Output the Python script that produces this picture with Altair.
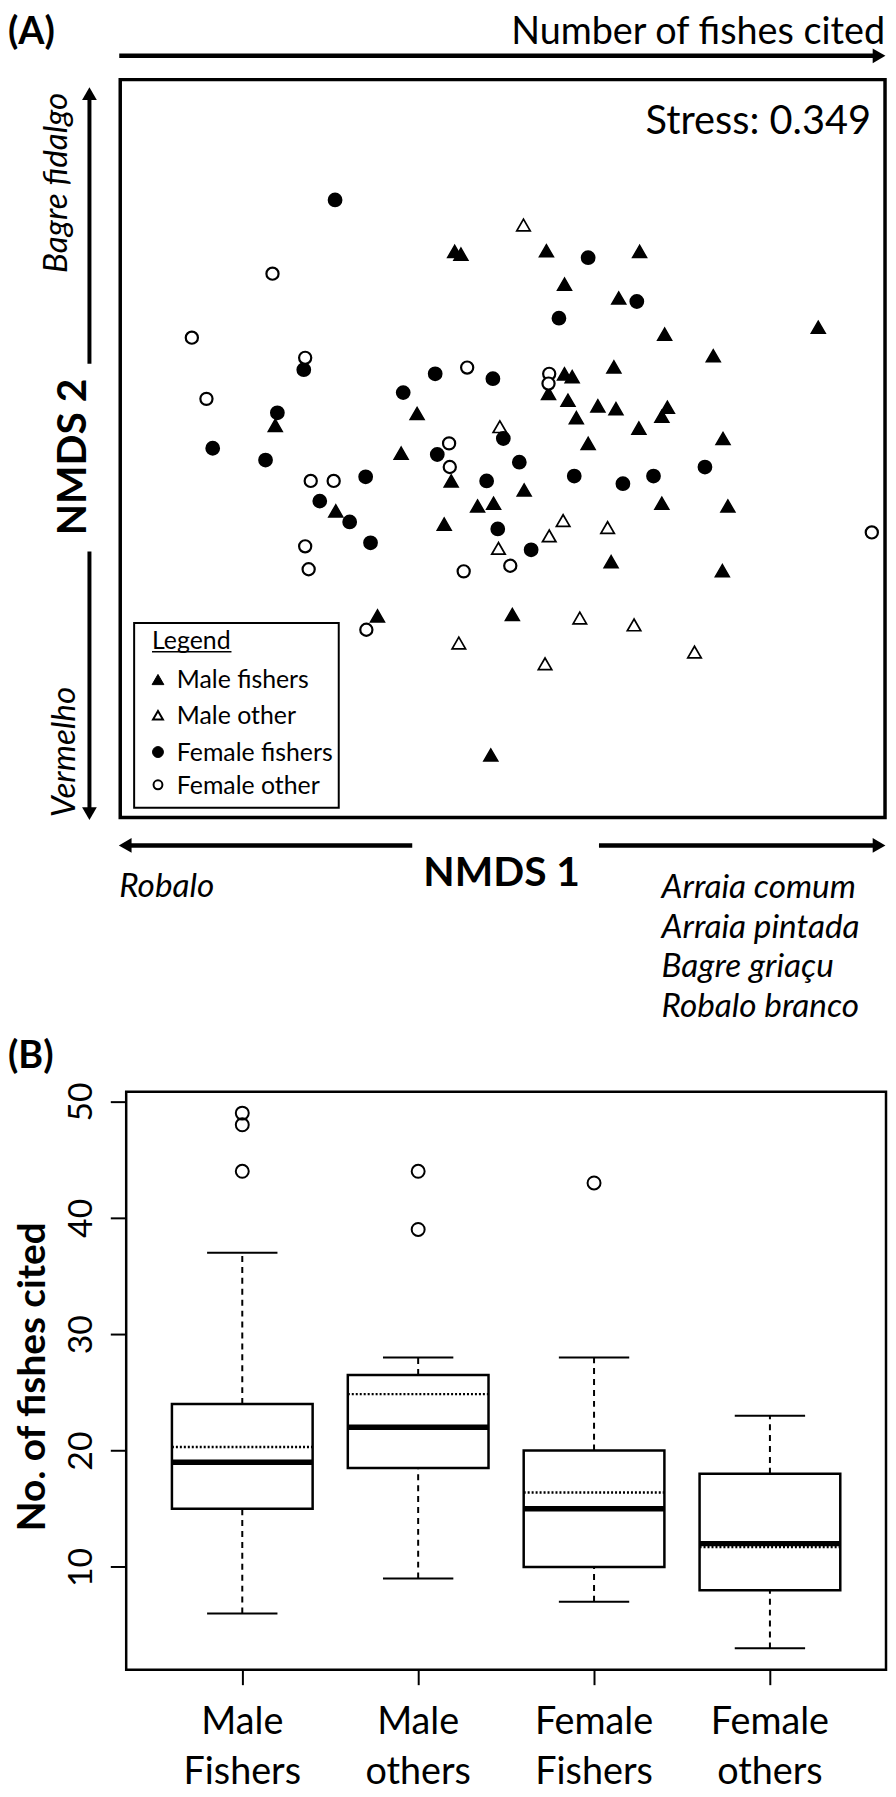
import altair as alt
import pandas as pd

FONT = "Lato"

# ---------------- Panel A data (NMDS scores) ----------------
groups = ["Male fishers", "Male other", "Female fishers", "Female other"]

mf_x = [-0.327, -0.123, -0.146, -0.240, -0.180, -0.069, -0.060, 0.063, 0.197, 0.089,
        0.167, 0.233, 0.454, 0.303, 0.160, 0.066, 0.089, 0.100, 0.094, 0.137,
        0.163, 0.106, 0.237, 0.229, 0.196, 0.317, 0.123, -0.074, 0.031, -0.036,
        -0.013, 0.229, 0.324, -0.084, 0.156, 0.316, 0.014, -0.017]
mf_y = [0.033, 0.050, -0.007, -0.090, -0.241, 0.283, 0.279, 0.284, 0.283, 0.236,
        0.216, 0.164, 0.174, 0.133, 0.117, 0.079, 0.107, 0.103, 0.069, 0.061,
        0.057, 0.044, 0.059, 0.046, 0.029, 0.014, 0.007, -0.047, -0.060, -0.083,
        -0.079, -0.079, -0.083, -0.109, -0.163, -0.176, -0.239, -0.441]

mo_x = [0.030, -0.004, 0.087, 0.067, 0.151, -0.006, 0.111, 0.189, -0.063, 0.276, 0.061]
mo_y = [0.321, 0.031, -0.104, -0.126, -0.114, -0.144, -0.244, -0.254, -0.280, -0.293, -0.310]

ff_x = [-0.241, -0.286, -0.324, -0.417, -0.341, -0.097, -0.143, -0.094, -0.197, -0.263,
        -0.220, -0.190, 0.123, 0.193, 0.081, -0.014, 0.001, 0.024, -0.023, 0.103,
        0.173, 0.217, 0.291, -0.007, 0.041]
ff_y = [0.357, 0.113, 0.051, 0.000, -0.017, 0.107, 0.080, -0.009, -0.041, -0.076,
        -0.106, -0.136, 0.274, 0.211, 0.187, 0.100, 0.014, -0.020, -0.047, -0.040,
        -0.051, -0.040, -0.027, -0.116, -0.146]

fo_x = [-0.331, -0.447, -0.284, -0.426, -0.276, -0.243, -0.284, -0.279, -0.196, -0.051,
        0.067, 0.066, -0.077, -0.076, 0.531, 0.011, -0.056]
fo_y = [0.251, 0.159, 0.130, 0.071, -0.047, -0.047, -0.141, -0.174, -0.261, 0.116,
        0.107, 0.093, 0.007, -0.027, -0.121, -0.169, -0.177]

stress_label = "Stress: 0.349"
right_species = ["Arraia comum", "Arraia pintada", "Bagre griaçu", "Robalo branco"]

# ---------------- Panel B data (boxplots) ----------------
box_labels = ["Male\nFishers", "Male\nothers", "Female\nFishers", "Female\nothers"]
box_pos = [1, 2, 3, 4]
q1 = [15, 18.5, 10, 8]
median = [19, 22, 15, 12]
q3 = [24, 26.5, 20, 18]
mean = [20.3, 24.85, 16.4, 11.7]
whisk_lo = [6, 9, 7, 3]
whisk_hi = [37, 28, 28, 23]
out_pos = [1, 1, 1, 2, 2, 3]
out_val = [49, 48, 44, 44, 39, 43]
y_ticks = [10, 20, 30, 40, 50]

# ---------------- frames ----------------
rows = []
for g, xs, ys in zip(groups, [mf_x, mo_x, ff_x, fo_x], [mf_y, mo_y, ff_y, fo_y]):
    for a, b in zip(xs, ys):
        rows.append({"group": g, "NMDS1": a, "NMDS2": b})
dfA = pd.DataFrame(rows)

dfB = pd.DataFrame({"pos": box_pos, "label": box_labels, "q1": q1, "median": median,
                    "q3": q3, "mean": mean, "lo": whisk_lo, "hi": whisk_hi})
dfO = pd.DataFrame({"pos": out_pos, "val": out_val})

one = pd.DataFrame({"k": [0]})

WA, HA = 770, 743
WB, HB = 771, 582
B0 = 6  # left inset of panel B's frame


def txt(s, x, y, size, weight="normal", style="normal", align="left",
        baseline="alphabetic", angle=None):
    kw = dict(text=s, font=FONT, fontSize=size, fontWeight=weight, fontStyle=style,
              align=align, baseline=baseline, color="black")
    if angle is not None:
        kw["angle"] = angle
    return alt.Chart(one).mark_text(**kw).encode(x=alt.value(x), y=alt.value(y))


def hrule(x1, x2, y, w):
    return alt.Chart(one).mark_rule(color="black", strokeWidth=w).encode(
        x=alt.value(x1), x2=alt.value(x2), y=alt.value(y))


def vrule(x, y1, y2, w):
    return alt.Chart(one).mark_rule(color="black", strokeWidth=w).encode(
        x=alt.value(x), y=alt.value(y1), y2=alt.value(y2))


def head(shape, x, y, size=220):
    return alt.Chart(one).mark_point(shape=shape, filled=True, color="black",
                                     opacity=1, size=size).encode(
        x=alt.value(x), y=alt.value(y))


def frame(x1, x2, y1, y2, w):
    return alt.Chart(one).mark_rect(fillOpacity=0, stroke="black", strokeWidth=w).encode(
        x=alt.value(x1), x2=alt.value(x2), y=alt.value(y1), y2=alt.value(y2))


# ---------------- Panel A ----------------
xsA = alt.Scale(domain=[-0.55, 0.55], nice=False, zero=False)
ysA = alt.Scale(domain=[-0.531, 0.53], nice=False, zero=False)

shapes = ["triangle-up", "triangle-up", "circle", "circle"]
fills = ["black", "white", "black", "white"]

ptsA = alt.Chart(dfA).mark_point(filled=True, stroke="black", opacity=1).encode(
    x=alt.X("NMDS1:Q", scale=xsA, axis=None),
    y=alt.Y("NMDS2:Q", scale=ysA, axis=None),
    shape=alt.Shape("group:N", scale=alt.Scale(domain=groups, range=shapes), legend=None),
    fill=alt.Fill("group:N", scale=alt.Scale(domain=groups, range=fills), legend=None),
    size=alt.Size("group:N", scale=alt.Scale(domain=groups, range=[200, 150, 180, 130]), legend=None),
    strokeWidth=alt.StrokeWidth("group:N", scale=alt.Scale(domain=groups, range=[1.5, 2.2, 1.5, 2.3]), legend=None),
)

layersA = [ptsA, frame(0, WA, 0, HA, 3.5)]

ITAL = 33.5
BOLDAX = 41

# top: labels and arrow
layersA += [
    txt("(A)", -113, -36, 38, weight="bold"),
    txt("Number of fishes cited", 770, -36, 38, align="right"),
    hrule(-1, 762, -24, 4.5),
    head("triangle-right", 764, -24),
    txt(stress_label, 756, 55, 40, align="right"),
]

# left: vertical arrows and labels
layersA += [
    vrule(-31, 286, 16, 4),
    head("triangle-up", -31, 14),
    vrule(-31, 475, 738, 4),
    head("triangle-down", -31, 739),
    txt("Bagre fidalgo", -64, 104, ITAL, style="italic", align="center", baseline="middle", angle=270),
    txt("Vermelho", -56, 677, ITAL, style="italic", align="center", baseline="middle", angle=270),
    txt("NMDS 2", -46, 380, BOLDAX, weight="bold", align="center", baseline="middle", angle=270),
]

# bottom: arrows and labels
layersA += [
    hrule(6, 294, 771, 4.5),
    head("triangle-left", 5, 771),
    hrule(482, 762, 771, 4.5),
    head("triangle-right", 764, 771),
    txt("NMDS 1", 384, 812, BOLDAX, weight="bold", align="center"),
    txt("Robalo", -1, 823, ITAL, style="italic"),
]
for i, sp in enumerate(right_species):
    layersA.append(txt(sp, 545, 824 + 40 * i, ITAL, style="italic"))

# legend box
leg_y = [604, 640, 677, 710]
leg_size = [140, 100, 120, 80]
leg_sw = [1, 2, 1, 2]
layersA += [
    frame(14, 220, 547, 733, 2),
    txt("Legend", 32, 573, 25),
    hrule(32, 112, 576, 1.5),
]
for i, g in enumerate(groups):
    layersA.append(
        alt.Chart(one).mark_point(shape=shapes[i], filled=True, fill=fills[i], stroke="black",
                                  strokeWidth=leg_sw[i], size=leg_size[i], opacity=1).encode(
            x=alt.value(38), y=alt.value(leg_y[i]))
    )
    layersA.append(txt(g, 57, leg_y[i] + 1, 25, baseline="middle"))

panelA = alt.layer(*layersA).properties(width=WA, height=HA)

# ---------------- Panel B ----------------
xsB = alt.Scale(domain=[0.34, 4.66], range=[B0, WB], nice=False, zero=False)
ysB = alt.Scale(domain=[1.16, 50.84], nice=False, zero=False)

axX = alt.Axis(values=[1, 2, 3, 4], labels=False, tickSize=15, tickWidth=2, tickColor="black",
               domain=False, grid=False, title=None)
axY = alt.Axis(values=y_ticks, tickSize=16, tickWidth=2, tickColor="black", labelAngle=270,
               labelAlign="center", labelBaseline="bottom", labelPadding=12, labelFont=FONT,
               labelFontSize=34, labelColor="black", domain=False, grid=False, title=None,
               labelFlush=False, labelOverlap=False, offset=-B0)

baseB = alt.Chart(dfB).transform_calculate(
    xl="datum.pos - 0.4", xr="datum.pos + 0.4", cl="datum.pos - 0.2", cr="datum.pos + 0.2")

# only this layer defines the axes; the others leave the axis unspecified
boxes = baseB.mark_rect(fill="white", stroke="black", strokeWidth=2.5).encode(
    x=alt.X("xl:Q", scale=xsB, axis=axX), x2="xr:Q",
    y=alt.Y("q1:Q", scale=ysB, axis=axY), y2="q3:Q")

wh_hi = baseB.mark_rule(color="black", strokeWidth=2, strokeDash=[6, 5]).encode(
    x=alt.X("pos:Q", scale=xsB), y=alt.Y("q3:Q", scale=ysB), y2="hi:Q")
wh_lo = baseB.mark_rule(color="black", strokeWidth=2, strokeDash=[6, 5]).encode(
    x=alt.X("pos:Q", scale=xsB), y=alt.Y("lo:Q", scale=ysB), y2="q1:Q")
cap_hi = baseB.mark_rule(color="black", strokeWidth=2).encode(
    x=alt.X("cl:Q", scale=xsB), x2="cr:Q", y=alt.Y("hi:Q", scale=ysB))
cap_lo = baseB.mark_rule(color="black", strokeWidth=2).encode(
    x=alt.X("cl:Q", scale=xsB), x2="cr:Q", y=alt.Y("lo:Q", scale=ysB))
med = baseB.mark_rule(color="black", strokeWidth=5.5).encode(
    x=alt.X("xl:Q", scale=xsB), x2="xr:Q", y=alt.Y("median:Q", scale=ysB))
mn = baseB.mark_rule(color="black", strokeWidth=2.5, strokeDash=[2, 2]).encode(
    x=alt.X("xl:Q", scale=xsB), x2="xr:Q", y=alt.Y("mean:Q", scale=ysB))
outl = alt.Chart(dfO).mark_point(shape="circle", filled=False, color="black", strokeWidth=2,
                                 size=170, opacity=1).encode(
    x=alt.X("pos:Q", scale=xsB), y=alt.Y("val:Q", scale=ysB))
xlab = alt.Chart(dfB).mark_text(font=FONT, fontSize=38, lineBreak="\n", lineHeight=50,
                                align="center", baseline="alphabetic", color="black").encode(
    x=alt.X("pos:Q", scale=xsB), y=alt.value(647), text="label:N")

layersB = [
    boxes, wh_hi, wh_lo, cap_hi, cap_lo, med, mn, outl, xlab,
    frame(B0, WB, 0, HB, 2.5),
    txt("(B)", -113, -24, 38, weight="bold"),
    txt("No. of fishes cited", -88, 287, 39, weight="bold", align="center",
        baseline="middle", angle=270),
]
panelB = alt.layer(*layersB).properties(width=WB, height=HB)

chart = alt.vconcat(panelA, panelB, spacing=14).properties(
    padding={"left": 0, "top": 0, "right": 0, "bottom": 0},
    background="white",
).configure_view(strokeOpacity=0)

chart.save("out.html", embed_options={"renderer": "svg", "actions": False})
